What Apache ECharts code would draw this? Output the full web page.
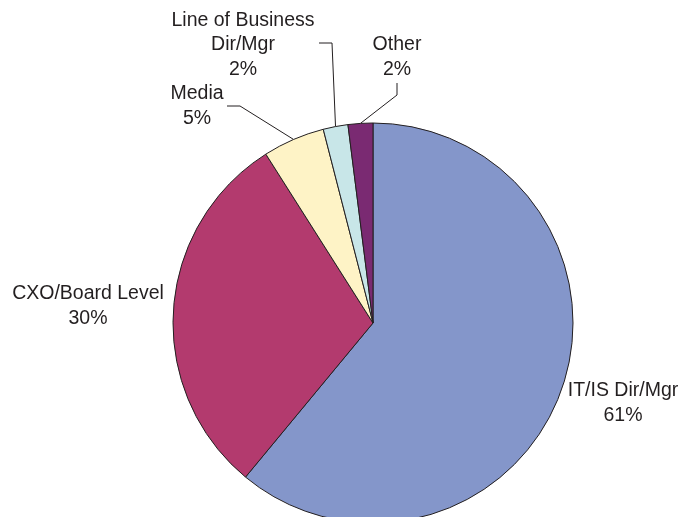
<!DOCTYPE html>
<html>
<head>
<meta charset="utf-8">
<script src="https://cdn.jsdelivr.net/npm/echarts@6/dist/echarts.min.js"></script>
<style>
  html, body { margin: 0; padding: 0; background: #fff; }
  #main { width: 687px; height: 517px; }
</style>
</head>
<body>
<div id="main"></div>
<script>
const categories = ['IT/IS Dir/Mgr', 'CXO/Board Level', 'Media', 'Line of Business\nDir/Mgr', 'Other']
const shares = [61, 30, 5, 2, 2]
const colors = ['#8496ca', '#b33a6e', '#fef3c6', '#c8e6e8', '#7a2a72']

// label block centres, and whether a leader line is drawn
const labelSpots = [
  { x: 623, y: 403, line: false },
  { x: 88, y: 306, line: false },
  { x: 197, y: 106, line: true, elbow: [[227, 106], [240, 106]] },
  { x: 243, y: 45, line: true, elbow: [[319, 43], [332, 43]] },
  { x: 397, y: 57, line: true, elbow: [[397, 83], [397, 95]] }
]

const chart = echarts.init(document.getElementById('main'))

chart.setOption({
  animation: false,
  series: [{
    type: 'pie',
    center: [373, 323],
    radius: 200,
    startAngle: 90,
    clockwise: true,
    avoidLabelOverlap: false,
    itemStyle: {
      borderColor: '#231f20',
      borderWidth: 1
    },
    label: {
      show: true,
      position: 'outside',
      formatter: '{b}\n{c}%',
      fontFamily: 'Liberation Sans, Arial, sans-serif',
      fontSize: 19.5,
      lineHeight: 24.5,
      color: '#231f20',
      align: 'center'
    },
    labelLine: {
      show: true,
      length: 10,
      length2: 10,
      lineStyle: { color: '#231f20', width: 1 }
    },
    labelLayout: function (params) {
      const spot = labelSpots[params.dataIndex]
      const out = {
        x: spot.x,
        y: spot.y,
        align: 'center',
        verticalAlign: 'middle'
      }
      if (spot.line && params.labelLinePoints) {
        const edge = params.labelLinePoints[0]
        out.labelLinePoints = [spot.elbow[0], spot.elbow[1], edge]
      }
      return out
    },
    data: categories.map((name, i) => ({
      name: name,
      value: shares[i],
      itemStyle: { color: colors[i] },
      labelLine: { show: labelSpots[i].line }
    }))
  }]
})
</script>
</body>
</html>
